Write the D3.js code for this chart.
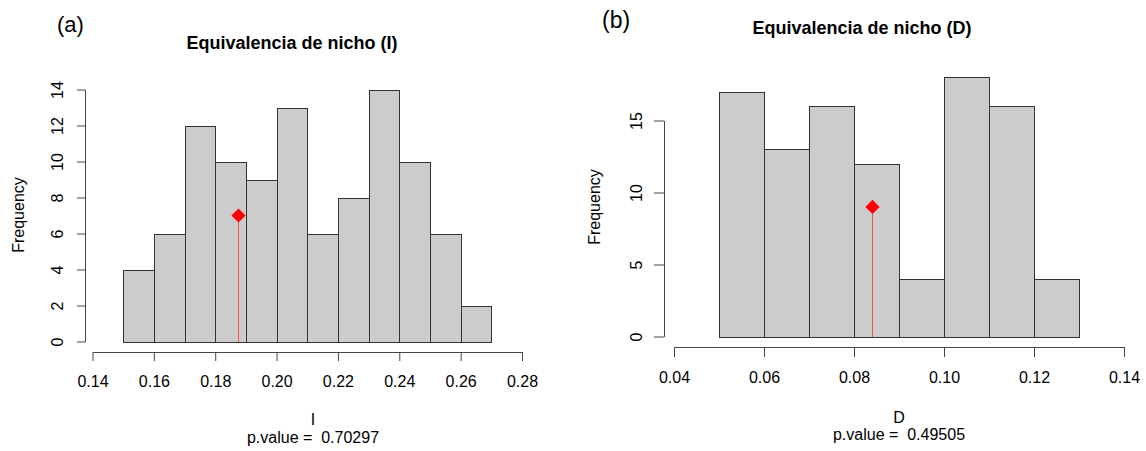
<!DOCTYPE html>
<html>
<head>
<meta charset="utf-8">
<style>
body { margin: 0; background: #fff; }
svg { display: block; }
text { font-family: "Liberation Sans", Arial, Helvetica, sans-serif; fill: #000; }
.bar { fill: #cccccc; stroke: #333; stroke-width: 1; }
.axis path, .axis line { stroke: #444; stroke-width: 1; }
</style>
</head>
<body>
<svg width="1146" height="451"></svg>
<script src="https://d3js.org/d3.v7.min.js"></script>
<script>

// panel (a): niche equivalence, Schoener's I
var edgesI  = [0.15, 0.16, 0.17, 0.18, 0.19, 0.20, 0.21, 0.22, 0.23, 0.24, 0.25, 0.26, 0.27];
var countsI = [4, 6, 12, 10, 9, 13, 6, 8, 14, 10, 6, 2];
var xTicksI = [0.14, 0.16, 0.18, 0.20, 0.22, 0.24, 0.26, 0.28];
var yTicksI = [0, 2, 4, 6, 8, 10, 12, 14];
var obsI = 0.1873, obsFreqI = 7;

// panel (b): niche equivalence, D
var edgesD  = [0.05, 0.06, 0.07, 0.08, 0.09, 0.10, 0.11, 0.12, 0.13];
var countsD = [17, 13, 16, 12, 4, 18, 16, 4];
var xTicksD = [0.04, 0.06, 0.08, 0.10, 0.12, 0.14];
var yTicksD = [0, 5, 10, 15];
var obsD = 0.0839, obsFreqD = 9;

var svg = d3.select("svg");

var panels = [
  { tag: "(a)", tagX: 57, tagY: 32, tagSize: 22,
    title: "Equivalencia de nicho (I)", titleX: 292, titleY: 49,
    xlab: "I", pval: "p.value =  0.70297", labX: 313, xlabY: 425, pvalY: 443,
    edges: edgesI, counts: countsI, xTicks: xTicksI, yTicks: yTicksI,
    obs: obsI, obsFreq: obsFreqI,
    xRange: [92.5, 522], yRange: [341.5, 89.5],
    xAxisY: 352, yAxisX: 85, tickX: 9, tickY: 8, xLabOff: 35, yLabOff: 22,
    freqX: 24, freqY: 215 },
  { tag: "(b)", tagX: 602, tagY: 28, tagSize: 23,
    title: "Equivalencia de nicho (D)", titleX: 862, titleY: 34,
    xlab: "D", pval: "p.value =  0.49505", labX: 899, xlabY: 423, pvalY: 440,
    edges: edgesD, counts: countsD, xTicks: xTicksD, yTicks: yTicksD,
    obs: obsD, obsFreq: obsFreqD,
    xRange: [674, 1124], yRange: [336.5, 120.5],
    xAxisY: 347, yAxisX: 664, tickX: 10, tickY: 10, xLabOff: 36, yLabOff: 22,
    freqX: 600, freqY: 207 }
];

panels.forEach(function(p) {
  var x = d3.scaleLinear()
      .domain([p.xTicks[0], p.xTicks[p.xTicks.length - 1]])
      .range(p.xRange);
  var y = d3.scaleLinear()
      .domain([p.yTicks[0], p.yTicks[p.yTicks.length - 1]])
      .range(p.yRange);

  var bins = p.counts.map(function(c, i) {
    return { x0: p.edges[i], x1: p.edges[i + 1], n: c };
  });

  var g = svg.append("g");

  g.selectAll("rect.bar")
    .data(bins)
    .enter().append("rect")
      .attr("class", "bar")
      .attr("x", function(d) { return Math.round(x(d.x0)) + 0.5; })
      .attr("width", function(d) { return Math.round(x(d.x1)) - Math.round(x(d.x0)); })
      .attr("y", function(d) { return Math.round(y(d.n)) + 0.5; })
      .attr("height", function(d) { return Math.round(y(0)) - Math.round(y(d.n)); });

  // observed value: stem + diamond
  var ox = Math.round(x(p.obs)) + 0.5;
  g.append("line")
      .attr("x1", ox).attr("x2", ox)
      .attr("y1", Math.round(y(0))).attr("y2", y(p.obsFreq))
      .attr("stroke", "#ff4d4d")
      .attr("stroke-width", 1);

  g.append("path")
      .attr("d", d3.symbol(d3.symbolSquare, 100)())
      .attr("transform", "translate(" + ox + "," + y(p.obsFreq) + ") rotate(45)")
      .attr("fill", "#ff0000");

  // x axis
  var xAxis = g.append("g")
      .attr("class", "axis")
      .attr("transform", "translate(0," + p.xAxisY + ")")
      .call(d3.axisBottom(x)
        .tickValues(p.xTicks)
        .tickSize(p.tickX)
        .tickSizeOuter(0)
        .tickFormat(d3.format(".2f")));
  xAxis.attr("font-size", null).attr("font-family", null);
  xAxis.selectAll("text")
      .attr("y", p.xLabOff)
      .attr("dy", 0)
      .style("font-size", "16px");

  // y axis
  var yAxis = g.append("g")
      .attr("class", "axis")
      .attr("transform", "translate(" + p.yAxisX + ",0)")
      .call(d3.axisLeft(y)
        .tickValues(p.yTicks)
        .tickSize(p.tickY)
        .tickSizeOuter(0));
  yAxis.attr("font-size", null).attr("font-family", null);
  yAxis.selectAll("text")
      .attr("x", 0)
      .attr("dy", 0)
      .attr("text-anchor", "middle")
      .attr("transform", "translate(" + (-p.yLabOff) + ",0) rotate(-90)")
      .style("font-size", "16px");

  // labels
  g.append("text")
      .attr("x", p.tagX).attr("y", p.tagY)
      .style("font-size", p.tagSize + "px")
      .text(p.tag);

  g.append("text")
      .attr("x", p.titleX).attr("y", p.titleY)
      .attr("text-anchor", "middle")
      .style("font-size", "18px")
      .style("font-weight", "bold")
      .text(p.title);

  g.append("text")
      .attr("x", p.labX).attr("y", p.xlabY)
      .attr("text-anchor", "middle")
      .style("font-size", "16px")
      .text(p.xlab);

  g.append("text")
      .attr("x", p.labX).attr("y", p.pvalY)
      .attr("text-anchor", "middle")
      .style("font-size", "16px")
      .style("white-space", "pre")
      .text(p.pval);

  g.append("text")
      .attr("transform", "translate(" + p.freqX + "," + p.freqY + ") rotate(-90)")
      .attr("text-anchor", "middle")
      .style("font-size", "16px")
      .text("Frequency");
});

</script>
</body>
</html>
